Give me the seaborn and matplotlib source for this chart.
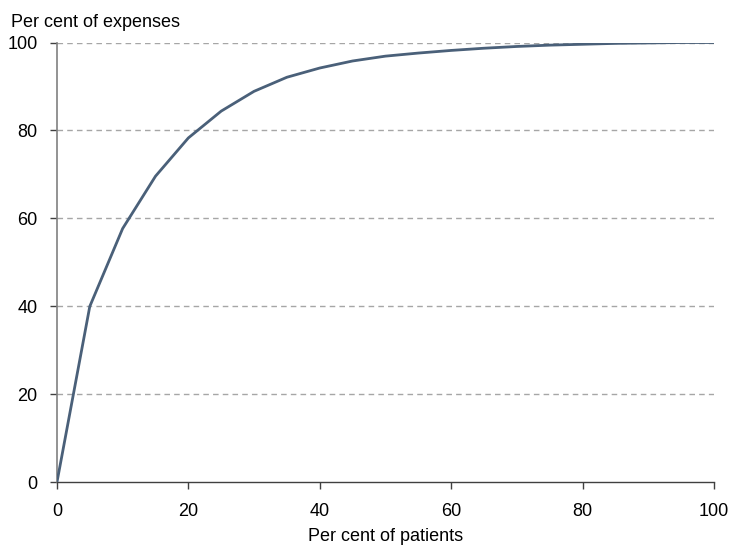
import matplotlib
matplotlib.use("Agg")
import matplotlib.pyplot as plt
import seaborn as sns
import pandas as pd

patients = [0, 5, 10, 15, 20, 25, 30, 35, 40, 45, 50, 55, 60, 65, 70, 75, 80, 85, 90, 95, 100]
expenses = [0, 40, 57.7, 69.6, 78.3, 84.4, 88.9, 92.1, 94.2, 95.8, 96.9, 97.6, 98.2, 98.7, 99.1, 99.4, 99.6, 99.8, 99.9, 100, 100]
ticks = [0, 20, 40, 60, 80, 100]

sns.set_theme(style="white")
plt.rcParams['font.family'] = ['Liberation Sans', 'DejaVu Sans']

df = pd.DataFrame({"patients": patients, "expenses": expenses})

fig = plt.figure(figsize=(7.3, 5.45), dpi=100)
ax = fig.add_axes([0.078, 0.115, 0.900, 0.807])

for t in ticks[1:]:
    ax.axhline(t, color="#a6a6a6", lw=1, ls=(0, (4, 3)), zorder=1)

sns.lineplot(data=df, x="patients", y="expenses", color="#4a6079", lw=2, ax=ax, zorder=3)

ax.set_xlim(0, 100)
ax.set_ylim(0, 100)
ax.set_xticks(ticks)
ax.set_yticks(ticks)
ax.tick_params(axis="both", which="both", direction="out", length=5, width=1,
               color="#404040", labelsize=13, labelcolor="black",
               bottom=True, left=True)
ax.tick_params(axis="x", pad=10)
ax.tick_params(axis="y", pad=9)
for s in ["top", "right"]:
    ax.spines[s].set_visible(False)
ax.spines["left"].set_color("#808080")
ax.spines["bottom"].set_color("#404040")
ax.spines["left"].set_linewidth(1.2)
ax.spines["bottom"].set_linewidth(1)

ax.set_xlabel("Per cent of patients", fontsize=13, color="black", labelpad=6)
ax.set_ylabel("")
fig.text(11 / 730, 1 - 27 / 545, "Per cent of expenses", fontsize=13, color="black",
         ha="left", va="baseline")

fig.savefig("out.png", dpi=100)
